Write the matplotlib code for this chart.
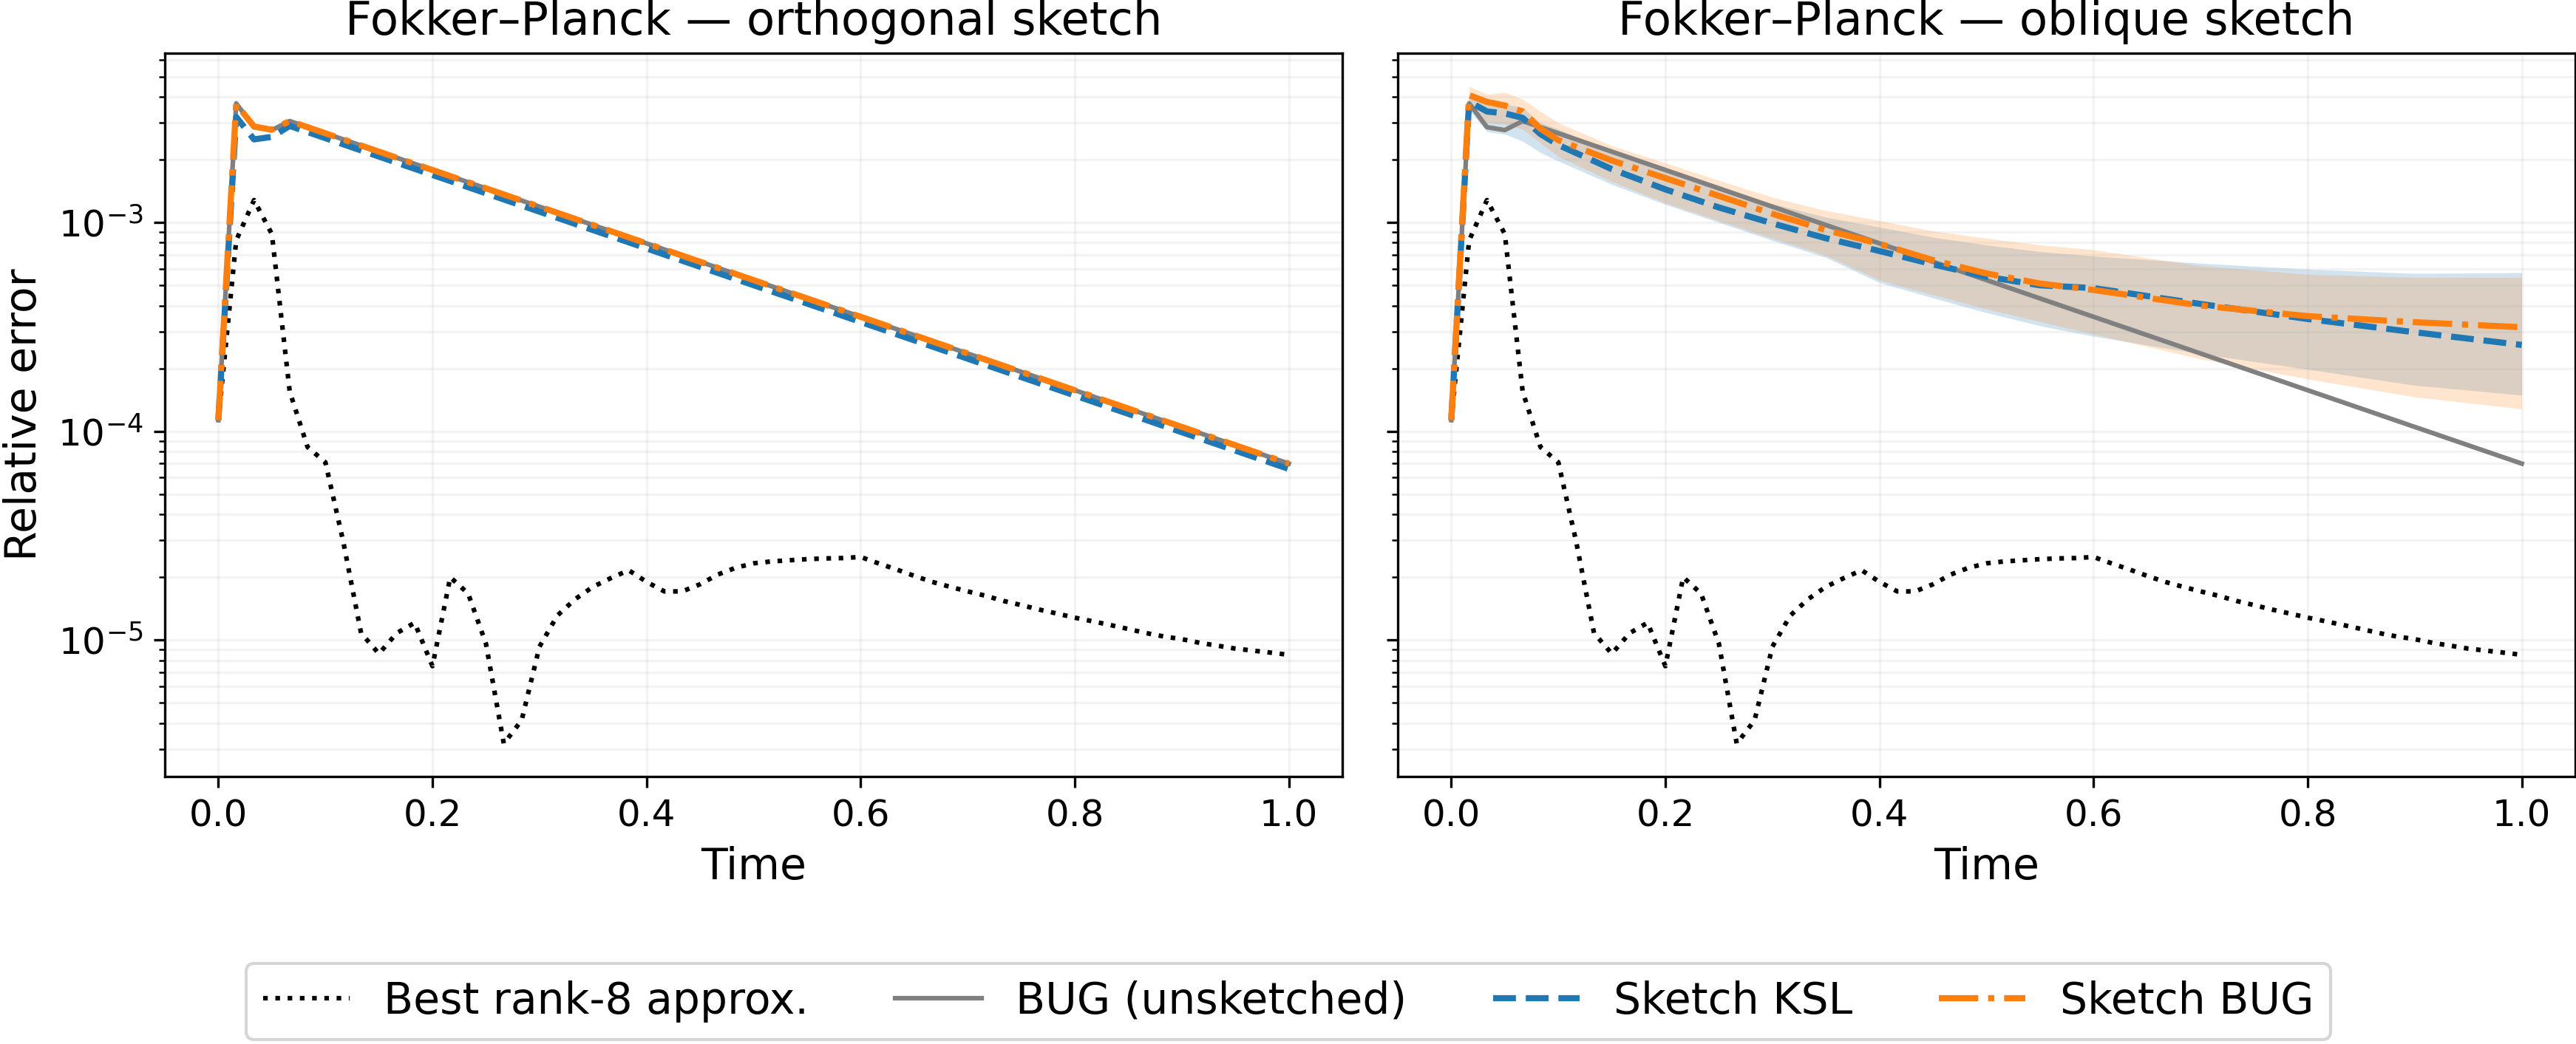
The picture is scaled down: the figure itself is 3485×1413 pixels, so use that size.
import numpy as np
import matplotlib
matplotlib.use("Agg")
from matplotlib import pyplot as plt

# time grid of the reference solution (dt = 1/60)
t_best = np.arange(61) / 60
best_rank8 = [
    1.13e-4, 8.2e-4, 1.28e-3, 8.8e-4, 1.55e-4, 8.4e-5, 7.1e-5, 2.96e-5, 1.08e-5, 8.6e-6,
    1.08e-5, 1.21e-5, 7.5e-6, 2.0e-5, 1.67e-5, 9.6e-6, 3.19e-6, 4.13e-6, 9.3e-6, 1.31e-5,
    1.57e-5, 1.80e-5, 1.98e-5, 2.16e-5, 1.90e-5, 1.71e-5, 1.71e-5, 1.85e-5, 2.06e-5, 2.22e-5,
    2.33e-5, 2.38e-5, 2.41e-5, 2.44e-5, 2.46e-5, 2.47e-5, 2.50e-5, 2.33e-5, 2.18e-5, 2.03e-5,
    1.90e-5, 1.80e-5, 1.71e-5, 1.63e-5, 1.54e-5, 1.47e-5, 1.40e-5, 1.34e-5, 1.28e-5, 1.23e-5,
    1.18e-5, 1.13e-5, 1.08e-5, 1.04e-5, 1.01e-5, 9.7e-6, 9.4e-6, 9.1e-6, 8.9e-6, 8.7e-6,
    8.5e-6,
]

# BUG (unsketched), same in both panels
t_bug = [0, 1 / 60, 2 / 60, 3 / 60, 4 / 60, 1.0]
bug = [1.13e-4, 3.72e-3, 2.86e-3, 2.77e-3, 3.06e-3, 7.0e-5]

# orthogonal sketch
t_orth = [0, 1 / 60, 2 / 60, 3 / 60, 4 / 60, 1.0]
orth_ksl = [1.13e-4, 3.2e-3, 2.5e-3, 2.57e-3, 2.9e-3, 6.6e-5]
orth_bug = [1.13e-4, 3.69e-3, 2.88e-3, 2.78e-3, 3.06e-3, 7.0e-5]

# oblique sketch: mean and spread over sketches
t_obl = [0, 1 / 60, 2 / 60, 3 / 60, 4 / 60, 5 / 60, 0.1, 0.15, 0.2, 0.25, 0.3,
         0.35, 0.4, 0.45, 0.5, 0.55, 0.6, 0.7, 0.8, 0.9, 1.0]
obl_ksl = [1.13e-4, 3.79e-3, 3.40e-3, 3.33e-3, 3.17e-3, 2.65e-3, 2.35e-3, 1.80e-3, 1.44e-3,
           1.18e-3, 9.9e-4, 8.4e-4, 7.3e-4, 6.3e-4, 5.5e-4, 5.0e-4, 4.85e-4, 4.07e-4,
           3.45e-4, 2.98e-4, 2.59e-4]
obl_ksl_lo = [1.13e-4, 3.45e-3, 2.72e-3, 2.65e-3, 2.45e-3, 2.16e-3, 1.97e-3, 1.52e-3, 1.22e-3,
              1.0e-3, 8.2e-4, 6.8e-4, 5.15e-4, 4.35e-4, 3.7e-4, 3.2e-4, 2.85e-4, 2.35e-4,
              1.98e-4, 1.66e-4, 1.49e-4]
obl_ksl_hi = [1.13e-4, 4.0e-3, 3.75e-3, 3.7e-3, 3.55e-3, 3.0e-3, 2.8e-3, 2.17e-3, 1.8e-3,
              1.48e-3, 1.23e-3, 1.06e-3, 9.5e-4, 8.5e-4, 7.8e-4, 7.25e-4, 6.9e-4, 6.38e-4,
              5.97e-4, 5.7e-4, 5.75e-4]
obl_bug = [1.13e-4, 4.07e-3, 3.78e-3, 3.63e-3, 3.40e-3, 2.81e-3, 2.48e-3, 1.98e-3, 1.63e-3,
           1.34e-3, 1.10e-3, 9.2e-4, 7.9e-4, 6.6e-4, 5.7e-4, 5.1e-4, 4.75e-4, 4.0e-4,
           3.56e-4, 3.33e-4, 3.15e-4]
obl_bug_lo = [1.13e-4, 3.65e-3, 3.0e-3, 2.95e-3, 2.8e-3, 2.4e-3, 2.07e-3, 1.57e-3, 1.24e-3,
              1.02e-3, 8.4e-4, 6.95e-4, 5.3e-4, 4.5e-4, 3.85e-4, 3.35e-4, 2.92e-4, 2.22e-4,
              1.78e-4, 1.46e-4, 1.28e-4]
obl_bug_hi = [1.13e-4, 4.5e-3, 4.1e-3, 4.2e-3, 3.9e-3, 3.4e-3, 3.0e-3, 2.33e-3, 1.93e-3,
              1.59e-3, 1.32e-3, 1.14e-3, 1.02e-3, 9.1e-4, 8.4e-4, 7.8e-4, 7.4e-4, 6.2e-4,
              5.65e-4, 5.45e-4, 5.45e-4]

titles = ["Fokker\u2013Planck \u2014 orthogonal sketch", "Fokker\u2013Planck \u2014 oblique sketch"]
labels = ["Best rank-8 approx.", "BUG (unsketched)", "Sketch KSL", "Sketch BUG"]

fig, axes = plt.subplots(1, 2, figsize=(11.62, 4.71), dpi=300, sharey=True)
fig.subplots_adjust(left=223 / 3486, right=3484 / 3486, bottom=1 - 1051 / 1413,
                    top=1 - 72 / 1413, wspace=75 / 1593)

ax = axes[0]
ax.plot(t_best, best_rank8, ":", color="black", lw=1.5, label=labels[0])
ax.plot(t_bug, bug, "-", color="gray", lw=1.5, label=labels[1])
ax.plot(t_orth, orth_ksl, "--", color="tab:blue", lw=2, label=labels[2])
ax.plot(t_orth, orth_bug, "-.", color="tab:orange", lw=2, label=labels[3])

ax = axes[1]
ax.fill_between(t_obl, obl_ksl_lo, obl_ksl_hi, color="tab:blue", alpha=0.2, lw=0)
ax.fill_between(t_obl, obl_bug_lo, obl_bug_hi, color="tab:orange", alpha=0.2, lw=0)
ax.plot(t_best, best_rank8, ":", color="black", lw=1.5)
ax.plot(t_bug, bug, "-", color="gray", lw=1.5)
ax.plot(t_obl, obl_ksl, "--", color="tab:blue", lw=2)
ax.plot(t_obl, obl_bug, "-.", color="tab:orange", lw=2)

for ax, title in zip(axes, titles):
    ax.set_yscale("log")
    ax.set_title(title, fontsize=15)
    ax.set_xlabel("Time", fontsize=14)
    ax.tick_params(axis="both", which="major", labelsize=12)
    ax.grid(True, which="both", alpha=0.15)
axes[0].set_ylabel("Relative error", fontsize=14)

handles, labs = axes[0].get_legend_handles_labels()
fig.legend(handles, labs, loc="lower center", ncol=4, fontsize=14,
           bbox_to_anchor=(0.5, 0.0), borderaxespad=0.1)

fig.savefig("out.png", dpi=300)
